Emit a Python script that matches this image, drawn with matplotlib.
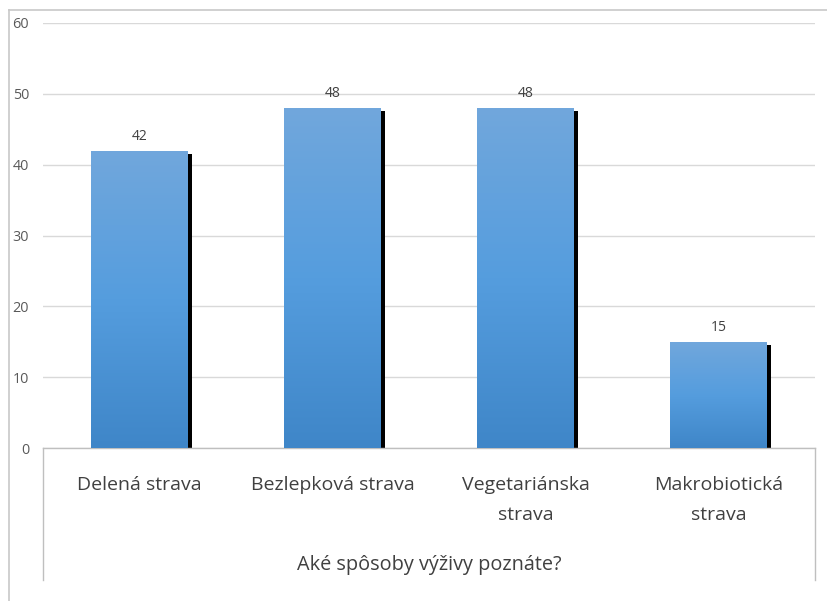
import numpy as np
import matplotlib
matplotlib.use("Agg")
import matplotlib.pyplot as plt
import matplotlib.patheffects as pe
from matplotlib.colors import LinearSegmentedColormap
from matplotlib.lines import Line2D

plt.rcParams['font.family'] = ['Open Sans', 'DejaVu Sans']

categories = ["Delená strava", "Bezlepková strava", "Vegetariánska\nstrava", "Makrobiotická\nstrava"]
values = [42, 48, 48, 15]
y_ticks = [0, 10, 20, 30, 40, 50, 60]
axis_title = "Aké spôsoby výživy poznáte?"

W, H = 827, 601
fig = plt.figure(figsize=(W / 100, H / 100), dpi=100)
ax = fig.add_axes([43 / W, 1 - 448 / H, (815 - 43) / W, (448 - 23) / H])

x = np.arange(len(categories))

# gridlines
ax.set_yticks(y_ticks)
ax.yaxis.grid(True, color="#D9D9D9", linewidth=1.0)
ax.set_axisbelow(True)
for s in ax.spines.values():
    s.set_visible(False)
ax.tick_params(axis='y', length=0, pad=10, labelsize=10.4, labelcolor="#595959")

# bars with drop shadow and vertical gradient
grad = LinearSegmentedColormap.from_list("barblue", ["#3F86C8", "#559DDE", "#71A7DC"])
gimg = np.linspace(0, 1, 256).reshape(-1, 1)
bars = ax.bar(x, values, width=0.5, color="#5B9BD5", zorder=2)
for b, v in zip(bars, values):
    b.set_path_effects([pe.SimplePatchShadow(offset=(3, -2.2), shadow_rgbFace="black", alpha=1.0),
                        pe.Normal()])
    im = ax.imshow(gimg, cmap=grad, origin="lower", aspect="auto",
                   extent=(b.get_x(), b.get_x() + b.get_width(), 0, v), zorder=3,
                   interpolation="bilinear")
    im.set_clip_path(b)
    ax.annotate(f"{v}", (b.get_x() + b.get_width() / 2, v), xytext=(0, 5),
                textcoords="offset points", ha="center", va="bottom",
                fontsize=10, color="#404040", zorder=4)
ax.set_xlim(-0.5, len(categories) - 0.5)
ax.set_ylim(0, 60)

# category axis box
ax.set_xticks(x)
ax.set_xticklabels(categories, fontsize=14, color="#404040", linespacing=1.9)
ax.tick_params(axis='x', length=0, pad=20)
box_kw = dict(transform=ax.transAxes, color="#BFBFBF", linewidth=1.0, clip_on=False)
bottom = -(580 - 448) / (448 - 23)
ax.add_line(Line2D([0, 1], [0, 0], **box_kw))
ax.add_line(Line2D([0, 0], [0, bottom], **box_kw))
ax.add_line(Line2D([1, 1], [0, bottom], **box_kw))

ax.text(0.5, -(565 - 448) / (448 - 23), axis_title, transform=ax.transAxes,
        ha="center", va="center", fontsize=14.3, color="#404040")

# chart area border
fig.add_artist(Line2D([9 / W, 9 / W], [0, 1 - 10 / H], transform=fig.transFigure,
                      color="#C8C8C8", linewidth=1.2))
fig.add_artist(Line2D([9 / W, 1], [1 - 10 / H, 1 - 10 / H], transform=fig.transFigure,
                      color="#C8C8C8", linewidth=1.2))

fig.savefig("out.png", dpi=100, facecolor="white")
